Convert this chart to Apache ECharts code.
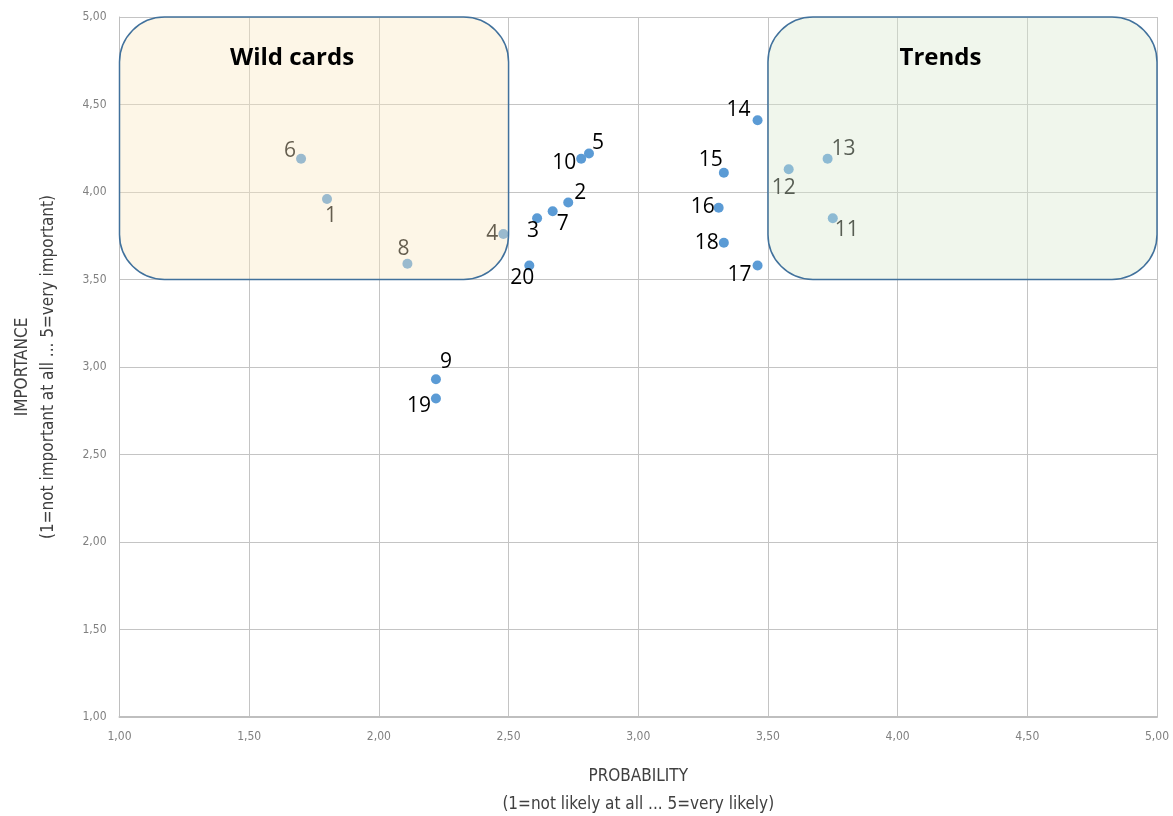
<!DOCTYPE html>
<html>
<head>
<meta charset="utf-8">
<script src="https://cdn.jsdelivr.net/npm/echarts@6/dist/echarts.min.js"></script>
<style>
html,body{margin:0;padding:0;background:#fff;}
#c{width:1173px;height:816px;}
</style>
</head>
<body>
<div id="c"></div>
<script>
// ---- data ----
const ids          = ['1','2','3','4','5','6','7','8','9','10','11','12','13','14','15','16','17','18','19','20'];
const probability  = [1.80,2.73,2.61,2.48,2.81,1.70,2.67,2.11,2.22,2.78,3.75,3.58,3.73,3.46,3.33,3.31,3.46,3.33,2.22,2.58];
const importance   = [3.96,3.94,3.85,3.76,4.22,4.19,3.89,3.59,2.93,4.19,3.85,4.13,4.19,4.41,4.11,3.91,3.58,3.71,2.82,3.58];
// label offsets (style only)
const labelOffset  = [[4,17],[12,-9],[-4,13],[-11,0],[9,-10],[-11,-8],[10,13],[-4,-15],[10,-17],[-17,4],[14,12],[-5,19],[16,-10],[-19,-10],[-13,-13],[-16,-1],[-18,10],[-17,0],[-17,8],[-7,13]];
const tickLabels   = ['1,00','1,50','2,00','2,50','3,00','3,50','4,00','4,50','5,00'];
const boxNames     = ['Wild cards','Trends'];
const boxX0        = [1.0,3.5];
const boxX1        = [2.5,5.0];
const boxY0        = [3.5,3.5];
const boxY1        = [5.0,5.0];
const boxFill      = ['rgba(250,233,195,0.4)','rgba(217,232,207,0.4)'];

const chart = echarts.init(document.getElementById('c'));

const points = ids.map((id,i)=>({
  value:[probability[i], importance[i]],
  name:id,
  label:{offset:labelOffset[i]}
}));

const boxData = boxNames.map((n,i)=>[boxX0[i], boxY0[i], boxX1[i], boxY1[i], i]);
const axisFont = 'DejaVu Sans Condensed, Liberation Sans Narrow, sans-serif';

chart.setOption({
  animation:false,
  backgroundColor:'#fff',
  grid:{left:119.5, right:16, top:17, bottom:99, containLabel:false, outerBoundsMode:'none'},
  xAxis:{
    type:'value', min:1, max:5, interval:0.5,
    axisLine:{show:true, lineStyle:{color:'#bfbfbf', width:2}},
    axisTick:{show:false},
    splitLine:{show:true, lineStyle:{color:'#c4c4c4', width:1}},
    axisLabel:{formatter:v=>tickLabels[Math.round((v-1)/0.5)], color:'#808080', fontSize:12, fontFamily:axisFont, margin:14},
    name:'PROBABILITY\n(1=not likely at all ... 5=very likely)',
    nameLocation:'middle', nameGap:46,
    nameTextStyle:{color:'#404040', fontSize:17, lineHeight:28, fontFamily:axisFont}
  },
  yAxis:{
    type:'value', min:1, max:5, interval:0.5,
    axisLine:{show:true, lineStyle:{color:'#bfbfbf', width:1}},
    axisTick:{show:false},
    splitLine:{show:true, lineStyle:{color:'#c4c4c4', width:1}},
    axisLabel:{formatter:v=>tickLabels[Math.round((v-1)/0.5)], color:'#808080', fontSize:12, fontFamily:axisFont, margin:13},
    name:'IMPORTANCE\n(1=not important at all ... 5=very important)',
    nameLocation:'middle', nameGap:58, nameRotate:90,
    nameTextStyle:{color:'#404040', fontSize:17, lineHeight:26, fontFamily:axisFont}
  },
  series:[
    {
      type:'scatter',
      z:2,
      symbolSize:10,
      itemStyle:{color:'#5b9bd5', opacity:1},
      label:{show:true, position:'inside', formatter:p=>p.name, color:'#000', fontSize:21, fontFamily:'Open Sans, Noto Sans, sans-serif'},
      data:points
    },
    {
      type:'custom',
      z:5,
      silent:true,
      data:boxData,
      encode:{x:[0,2], y:[1,3]},
      clip:false,
      renderItem:function(params, api){
        const p0 = api.coord([api.value(0), api.value(3)]);
        const p1 = api.coord([api.value(2), api.value(1)]);
        const idx = api.value(4);
        const w = p1[0]-p0[0], h = p1[1]-p0[1];
        return {
          type:'group',
          children:[
            {type:'rect', shape:{x:p0[0], y:p0[1], width:w, height:h, r:45},
             style:{fill:boxFill[idx], stroke:'#41719c', lineWidth:1.5}},
            {type:'text', style:{text:boxNames[idx], x:p0[0]+w/2-22, y:p0[1]+41, align:'center', verticalAlign:'middle',
              fill:'#000', font:'bold 24px "Open Sans", "Noto Sans", sans-serif'}}
          ]
        };
      }
    }
  ]
});
</script>
</body>
</html>
